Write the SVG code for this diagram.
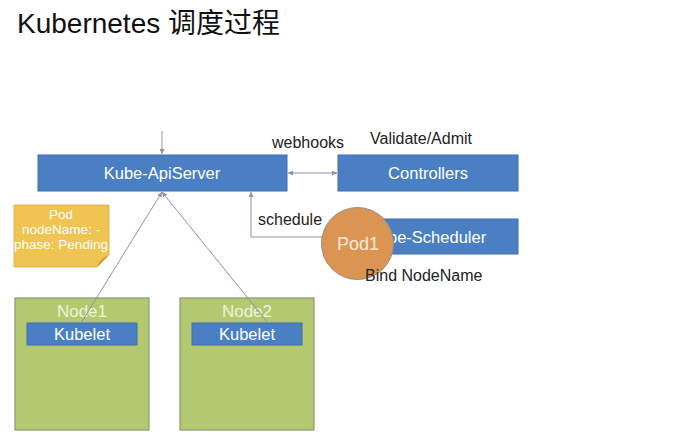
<svg xmlns="http://www.w3.org/2000/svg" width="694" height="442" viewBox="0 0 694 442">
<style>
  text { font-family: "Liberation Sans", "Noto Sans CJK SC", sans-serif; }
  .box { fill: #4A7FC4; stroke: #3E6FAD; stroke-width: 1; }
  .node { fill: #B4C96F; stroke: #8C9677; stroke-width: 1.2; }
  .wt { fill: #FFFFFF; font-size: 16.5px; text-anchor: middle; }
  .lt { fill: #EEF3DC; font-size: 17px; text-anchor: middle; }
  .nt { fill: #FFFFFF; font-size: 13.5px; text-anchor: middle; }
  .lbl { fill: #222222; font-size: 16px; }
  .conn { stroke: #8A93A8; stroke-width: 1; fill: none; }
</style>
<defs>
  <marker id="ah" viewBox="0 0 6 6" refX="6" refY="3" markerWidth="5" markerHeight="5" orient="auto-start-reverse">
    <path d="M0,0 L6,3 L0,6 z" fill="#8A93A8"/>
  </marker>
</defs>
<rect width="694" height="442" fill="#FFFFFF"/>
<text x="17" y="33" font-size="28" fill="#111111">Kubernetes 调度过程</text>

<g id="apiserver">
  <rect class="box" x="38" y="155" width="249" height="36"/>
  <text class="wt" x="162" y="179">Kube-ApiServer</text>
</g>
<g id="controllers">
  <rect class="box" x="338" y="155" width="180" height="36"/>
  <text class="wt" x="428" y="179">Controllers</text>
</g>
<g id="scheduler">
  <rect class="box" x="338" y="219" width="180" height="35"/>
  <text class="wt" x="427" y="243">Kube-Scheduler</text>
</g>
<g id="pod-note">
  <path d="M14,205 H109 V255 L97,267 H14 Z" fill="#F0C451" stroke="#D9AE3F" stroke-width="0.8"/>
  <path d="M109,255 L97,267 Q99,259 109,255 Z" fill="#C9A03A"/>
  <text class="nt" x="61" y="219">Pod</text>
  <text class="nt" x="61" y="234">nodeName: -</text>
  <text class="nt" x="61" y="249">phase: Pending</text>
</g>
<g id="node1">
  <rect class="node" x="15" y="298" width="134" height="132"/>
  <text class="lt" x="82" y="317">Node1</text>
  <rect class="box" x="27" y="323" width="110" height="22"/>
  <text class="wt" x="82" y="340">Kubelet</text>
</g>
<g id="node2">
  <rect class="node" x="180" y="298" width="134" height="132"/>
  <text class="lt" x="247" y="317">Node2</text>
  <rect class="box" x="192" y="323" width="110" height="22"/>
  <text class="wt" x="247" y="340">Kubelet</text>
</g>

<g id="connectors">
  <line class="conn" x1="162" y1="131" x2="162" y2="154" marker-end="url(#ah)"/>
  <line class="conn" x1="288" y1="173" x2="337" y2="173" marker-start="url(#ah)" marker-end="url(#ah)"/>
  <polyline class="conn" points="337,237 251,237 251,192" marker-end="url(#ah)"/>
  <line class="conn" x1="162" y1="192" x2="81" y2="323" marker-start="url(#ah)"/>
  <line class="conn" x1="162" y1="192" x2="268" y2="323" marker-start="url(#ah)"/>
</g>

<g id="pod1">
  <circle cx="357.5" cy="243.5" r="36" fill="#DB9552" stroke="#9A8C80" stroke-width="1"/>
  <text x="358" y="250" fill="#FBE9D8" font-size="18" text-anchor="middle">Pod1</text>
</g>

<g id="labels">
  <text class="lbl" x="272" y="148">webhooks</text>
  <text class="lbl" x="370" y="144">Validate/Admit</text>
  <text class="lbl" x="258" y="225">schedule</text>
  <text class="lbl" x="365" y="281">Bind NodeName</text>
</g>
</svg>
